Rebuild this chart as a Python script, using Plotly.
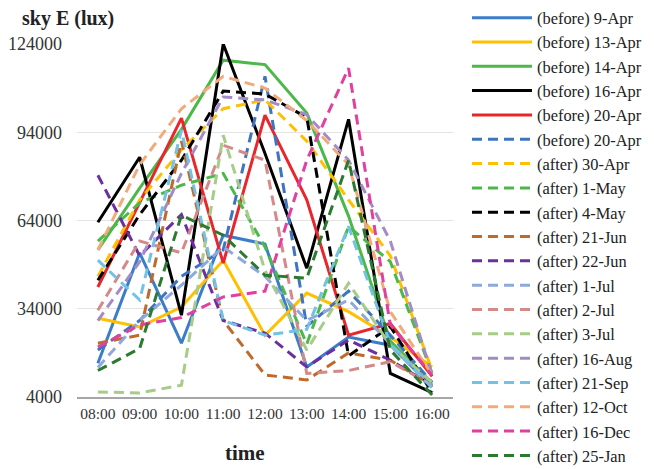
import plotly.graph_objects as go

times = ["08:00", "09:00", "10:00", "11:00", "12:00", "13:00", "14:00", "15:00", "16:00"]

names = ["(before) 9-Apr", "(before) 13-Apr", "(before) 14-Apr", "(before) 16-Apr",
         "(before) 20-Apr", "(before) 20-Apr", "(after) 30-Apr", "(after) 1-May",
         "(after) 4-May", "(after) 21-Jun", "(after) 22-Jun", "(after) 1-Jul",
         "(after) 2-Jul", "(after) 3-Jul", "(after) 16-Aug", "(after) 21-Sep",
         "(after) 12-Oct", "(after) 16-Dec", "(after) 25-Jan"]

b_9apr = [15500, 53000, 22300, 59000, 56000, 14200, 24400, 21600, 7400]
b_13apr = [30800, 27800, 34600, 50500, 25000, 39300, 33000, 24400, 14200]
b_14apr = [54000, 75000, 95000, 118500, 117000, 100500, 65500, 23000, 8800]
b_16apr = [63400, 85500, 31800, 124000, 86800, 47800, 98400, 12000, 5500]
b_20apr = [41400, 70000, 98800, 49500, 99800, 71000, 25000, 29000, 11000]
b_20apr_d = [20000, 30000, 45000, 54000, 113000, 28000, 40000, 25000, 9000]
a_30apr = [45000, 71000, 88000, 102000, 105000, 91000, 71000, 52000, 13000]
a_1may = [57000, 70000, 76000, 80000, 55000, 22000, 62000, 50000, 12000]
a_4may = [43700, 66000, 84500, 108000, 107000, 99000, 18000, 28000, 5500]
a_21jun = [22300, 25000, 91000, 30000, 11500, 9800, 19000, 16500, 8000]
a_22jun = [79400, 52000, 66000, 30000, 25700, 14200, 23400, 16500, 8000]
a_1jul = [14000, 30000, 42000, 55000, 45000, 30000, 37000, 22000, 8000]
a_2jul = [33500, 57000, 53000, 89600, 84500, 12000, 13000, 16000, 8000]
a_3jul = [5700, 5400, 8000, 93000, 47000, 20000, 42700, 21600, 9000]
a_16aug = [30000, 50000, 80000, 106000, 105000, 100000, 84500, 57000, 11500]
a_21sep = [50500, 37000, 94700, 30000, 25000, 27000, 62000, 22000, 7000]
a_12oct = [54000, 83000, 102000, 113000, 109000, 98000, 83000, 33000, 11500]
a_16dec = [21000, 28500, 31000, 38000, 40000, 84500, 115800, 28500, 11500]
a_25jan = [13000, 20500, 65800, 59000, 45400, 44400, 84500, 20000, 4700]

series = [b_9apr, b_13apr, b_14apr, b_16apr, b_20apr, b_20apr_d, a_30apr, a_1may,
          a_4may, a_21jun, a_22jun, a_1jul, a_2jul, a_3jul, a_16aug, a_21sep,
          a_12oct, a_16dec, a_25jan]

colors = ["#3B7DC8", "#FFC000", "#4CB84A", "#000000", "#E8262B", "#3F74C0",
          "#FFC000", "#4CB84A", "#000000", "#BF6A2C", "#6B2FA0", "#8EA9DB",
          "#D48A8A", "#A6CC88", "#A38BC6", "#72C2E6", "#F2AA7A", "#E040A0",
          "#2A7A30"]
dashes = ["solid"] * 5 + ["10px,6px"] * 14

yticks = [4000, 34000, 64000, 94000, 124000]

# page body has an 8px default margin, so the figure is laid out 8px smaller
W, H = 646, 461
L, R, T, B = 69, 201, 36, 72
PW, PH = W - L - R, H - T - B

fig = go.Figure()
for i, (nm, vals) in enumerate(zip(names, series)):
    fig.add_trace(go.Scatter(
        x=times, y=vals, mode="lines", name=nm,
        legendgroup="g%d" % i,
        line=dict(color=colors[i], width=3, dash=dashes[i]),
    ))

font_family = "Liberation Serif"

fig.update_layout(
    width=W, height=H,
    margin=dict(l=L, r=R, t=T, b=B, autoexpand=False),
    paper_bgcolor="white", plot_bgcolor="white",
    font=dict(family=font_family, color="#222222"),
    showlegend=True,
    legend=dict(
        x=(459 - L) / PW, y=(H - B + 7.5) / PH, xanchor="left", yanchor="top",
        font=dict(family=font_family, size=16.4, color="#222222"),
        tracegroupgap=0, itemwidth=60, maxheight=560,
        bgcolor="rgba(0,0,0,0)",
    ),
    xaxis=dict(
        type="category", range=[-0.5, 8.5], automargin=False,
        showgrid=False, showline=True, linecolor="#A6A6A6", linewidth=2,
        ticks="", tickfont=dict(family=font_family, size=15.5, color="#333333"),
        ticklabelstandoff=1,
    ),
    yaxis=dict(
        range=[4000, 124000], tickvals=yticks, ticktext=[str(v) for v in yticks],
        automargin=False,
        showgrid=True, gridcolor="#E3E3E3", gridwidth=1,
        zeroline=False, showline=False, ticks="",
        tickfont=dict(family=font_family, size=18, color="#333333"),
        ticklabelstandoff=14,
    ),
    annotations=[
        dict(text="<b>sky E (lux)</b>", xref="paper", yref="paper",
             x=(12 - L) / PW, y=(H - B - 10.5) / PH, xanchor="left", yanchor="middle",
             showarrow=False, font=dict(family=font_family, size=20, color="#222222")),
        dict(text="<b>time</b>", xref="paper", yref="paper",
             x=(237 - L) / PW, y=(H - B - 445) / PH, xanchor="center", yanchor="middle",
             showarrow=False, font=dict(family=font_family, size=21, color="#222222")),
    ],
)

fig.write_html("out.html")
